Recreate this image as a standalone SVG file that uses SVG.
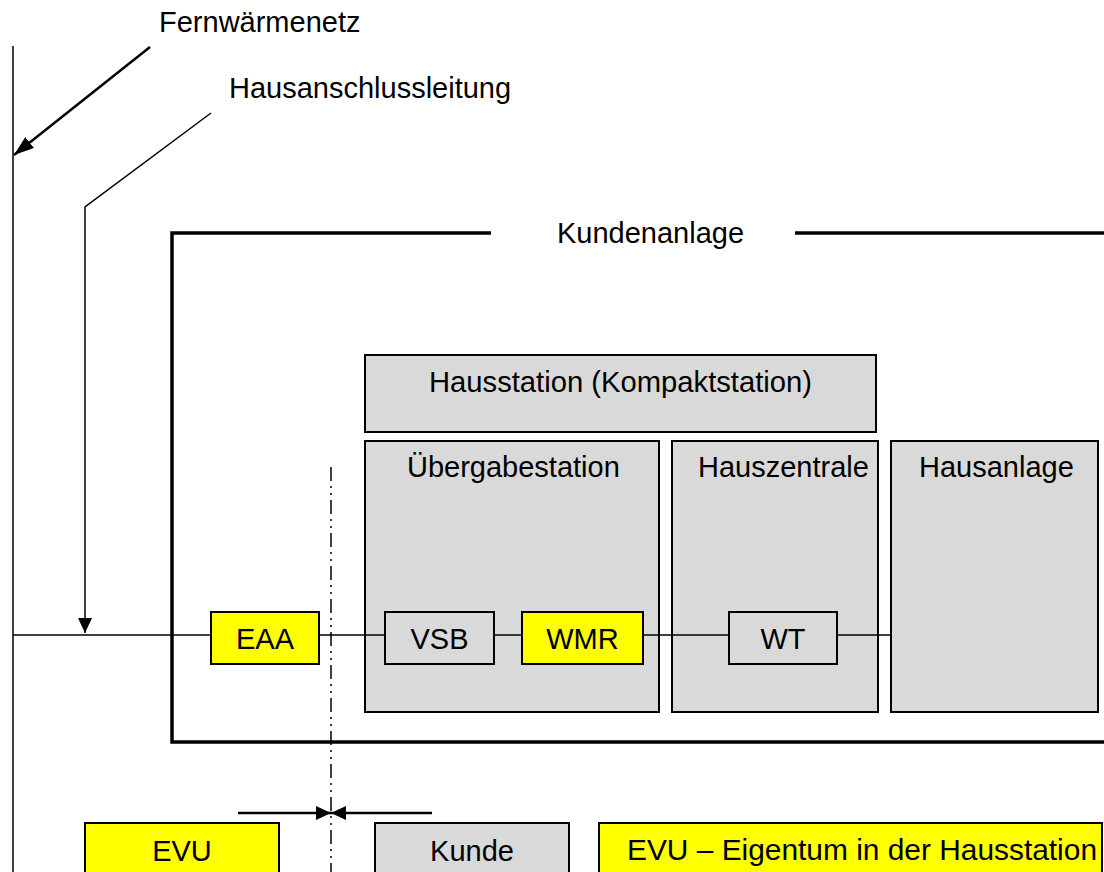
<svg xmlns="http://www.w3.org/2000/svg" width="1104" height="872" viewBox="0 0 1104 872">
<style>
  text { font-family: "Liberation Sans", Arial, sans-serif; font-size: 29px; fill: #000; }
  .gray { fill: #d9d9d9; stroke: #000; stroke-width: 2; }
  .yel { fill: #ffff00; stroke: #000; stroke-width: 2; }
  .thin { fill: none; stroke: #000; stroke-width: 1.5; }
  .frame { fill: none; stroke: #000; stroke-width: 3.5; }
</style>
<defs>
  <marker id="ah" viewBox="0 0 20 14" refX="20" refY="7" markerWidth="20" markerHeight="14" markerUnits="userSpaceOnUse" orient="auto">
    <path d="M0,0 L20,7 L0,14 Z" fill="#000"/>
  </marker>
  <marker id="ah2" viewBox="0 0 15 14" refX="15" refY="7" markerWidth="15" markerHeight="14" markerUnits="userSpaceOnUse" orient="auto">
    <path d="M0,0 L15,7 L0,14 Z" fill="#000"/>
  </marker>
</defs>
<rect width="1104" height="872" fill="#fff"/>

<g id="kundenanlage">
  <polyline class="frame" points="491,233 172,233 172,742 1104,742"/>
  <line class="frame" x1="795" y1="233" x2="1104" y2="233"/>
  <text x="557" y="243">Kundenanlage</text>
</g>

<g id="hausstation">
  <rect class="gray" x="365" y="355" width="511" height="77"/>
  <text x="429" y="392" textLength="383" lengthAdjust="spacingAndGlyphs">Hausstation (Kompaktstation)</text>
</g>
<g id="uebergabestation">
  <rect class="gray" x="365" y="441" width="294" height="271"/>
  <text x="407" y="477">Übergabestation</text>
</g>
<g id="hauszentrale">
  <rect class="gray" x="672" y="441" width="206" height="271"/>
  <text x="698" y="477">Hauszentrale</text>
</g>
<g id="hausanlage">
  <rect class="gray" x="891" y="441" width="207" height="271"/>
  <text x="919" y="477">Hausanlage</text>
</g>

<g id="connectors">
  <line class="thin" x1="13" y1="46" x2="13" y2="872"/>
  <line x1="150" y1="47" x2="14" y2="155" stroke="#000" stroke-width="2.5" marker-end="url(#ah)"/>
  <polyline class="thin" points="211,113 85,207 85,633" marker-end="url(#ah2)"/>
  <line class="thin" x1="13" y1="635" x2="891" y2="635"/>
  <line x1="331" y1="467" x2="331" y2="872" stroke="#000" stroke-width="1.5" stroke-dasharray="14 5 2 5 2 5"/>
  <line x1="238" y1="813" x2="331" y2="813" stroke="#000" stroke-width="2.5" marker-end="url(#ah2)"/>
  <line x1="432" y1="813" x2="331" y2="813" stroke="#000" stroke-width="2.5" marker-end="url(#ah2)"/>
</g>

<g id="fernwaermenetz"><text x="159" y="32">Fernwärmenetz</text></g>
<g id="hausanschlussleitung"><text x="229" y="98">Hausanschlussleitung</text></g>

<g id="eaa">
  <rect class="yel" x="211" y="612" width="108" height="52"/>
  <text x="265" y="649" text-anchor="middle">EAA</text>
</g>
<g id="vsb">
  <rect class="gray" x="385" y="612" width="109" height="52"/>
  <text x="439.5" y="649" text-anchor="middle">VSB</text>
</g>
<g id="wmr">
  <rect class="yel" x="522" y="612" width="121" height="52"/>
  <text x="582.5" y="649" text-anchor="middle">WMR</text>
</g>
<g id="wt">
  <rect class="gray" x="729" y="612" width="108" height="52"/>
  <text x="783" y="649" text-anchor="middle">WT</text>
</g>

<g id="evu">
  <rect class="yel" x="85" y="823" width="194" height="60"/>
  <text x="182" y="861" text-anchor="middle">EVU</text>
</g>
<g id="kunde">
  <rect class="gray" x="375" y="823" width="194" height="60"/>
  <text x="472" y="861" text-anchor="middle">Kunde</text>
</g>
<g id="evu-eigentum">
  <rect class="yel" x="599" y="823" width="503" height="60"/>
  <text x="627" y="860" textLength="470" lengthAdjust="spacingAndGlyphs">EVU – Eigentum in der Hausstation</text>
</g>
</svg>
